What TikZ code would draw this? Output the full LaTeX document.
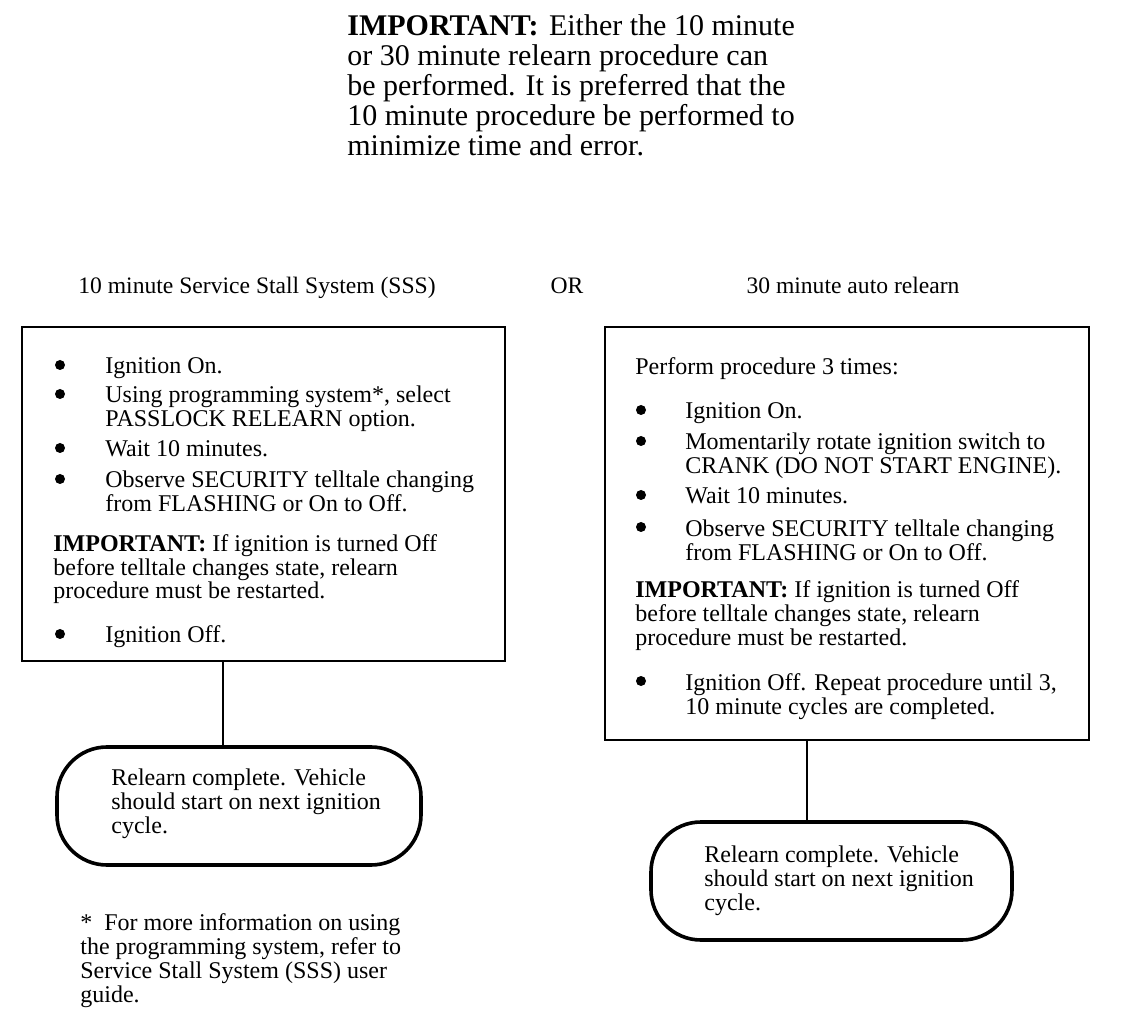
\documentclass[tikz,border=0pt]{standalone}
\usepackage{fontspec}
\setmainfont{Liberation Serif}

\begin{document}
\begin{tikzpicture}[
  x=0.5pt, y=-0.5pt,
  every node/.style={inner sep=0pt},
  txt/.style={anchor=base west, align=left, font=\fontsize{12}{12}\selectfont},
  head/.style={anchor=base, font=\fontsize{11.8}{12}\selectfont},
  note/.style={anchor=base west, align=left, font=\fontsize{15}{15}\selectfont},
  dot/.style={circle, fill=black, minimum size=5pt},
  panel/.style={draw, line width=1pt},
  stopbox/.style={draw, line width=1.8pt, rounded corners=25pt, minimum height=59pt},
  link/.style={draw, line width=1pt}]

  \useasboundingbox (0,0) rectangle (1136,1026);

  % top remark (base = last line)
  \node[note] (intro) at (347,156) {\textbf{IMPORTANT:}\hspace{1.5pt} Either the 10 minute\\
    or 30 minute relearn procedure can\\
    be performed. It is preferred that the\\
    10 minute procedure be performed to\\
    minimize time and error.};

  % column heads
  \node[head] (ssshead) at (257,294) {10 minute Service Stall System (SSS)};
  \node[head] (orhead)  at (567,294) {OR};
  \node[head] (autohead) at (853,294) {30 minute auto relearn};

  % boxes
  \node[panel, minimum width=241.5pt, minimum height=167pt] (sssbox) at (263.5,494) {};
  \node[panel, minimum width=242pt, minimum height=206.5pt] (autobox) at (847,533.5) {};

  % left box
  \foreach \y [count=\i] in {374,403,457,488,643}
    \node[dot] (sssdot\i) at (60,\y-9) {};
  \node[txt] (sss1) at (105,374) {Ignition On.};
  \node[txt] (sss2) at (105,427) {Using programming system*, select\\PASSLOCK RELEARN option.};
  \node[txt] (sss3) at (105,457) {Wait 10 minutes.};
  \node[txt] (sss4) at (105,512) {Observe SECURITY telltale changing\\from FLASHING or On to Off.};
  \node[txt] (sssimp) at (53,599) {\textbf{IMPORTANT:} If ignition is turned Off\\before telltale changes state, relearn\\procedure must be restarted.};
  \node[txt] (sss5) at (105,643) {Ignition Off.};

  % right box
  \node[txt] (autotop) at (635,375) {Perform procedure 3 times:};
  \foreach \y [count=\i] in {419,450,504,536,690}
    \node[dot] (autodot\i) at (641,\y-9) {};
  \node[txt] (auto1) at (685,419) {Ignition On.};
  \node[txt] (auto2) at (685,474) {Momentarily rotate ignition switch to\\CRANK (DO NOT START ENGINE).};
  \node[txt] (auto3) at (685,504) {Wait 10 minutes.};
  \node[txt] (auto4) at (685,560) {Observe SECURITY telltale changing\\from FLASHING or On to Off.};
  \node[txt] (autoimp) at (635,646) {\textbf{IMPORTANT:} If ignition is turned Off\\before telltale changes state, relearn\\procedure must be restarted.};
  \node[txt] (auto5) at (685,714) {Ignition Off. Repeat procedure until 3,\\10 minute cycles are completed.};

  % end states
  \node[stopbox, minimum width=182pt] (sssstop) at (239,806) {};
  \node[txt] (ssstext) at (111,833) {Relearn complete. Vehicle\\should start on next ignition\\cycle.};
  \node[stopbox, minimum width=180.5pt] (autostop) at (831.5,881) {};
  \node[txt] (autotext) at (704,910) {Relearn complete. Vehicle\\should start on next ignition\\cycle.};

  \coordinate (ssstap) at (223,661);
  \coordinate (autotap) at (807,740);
  \draw[link] (ssstap) -- (ssstap |- sssstop.north);
  \draw[link] (autotap) -- (autotap |- autostop.north);

  % footnote
  \node[txt] (foot) at (80,1002) {*\ \ For more information on using\\the programming system, refer to\\Service Stall System (SSS) user\\guide.};

\end{tikzpicture}
\end{document}
